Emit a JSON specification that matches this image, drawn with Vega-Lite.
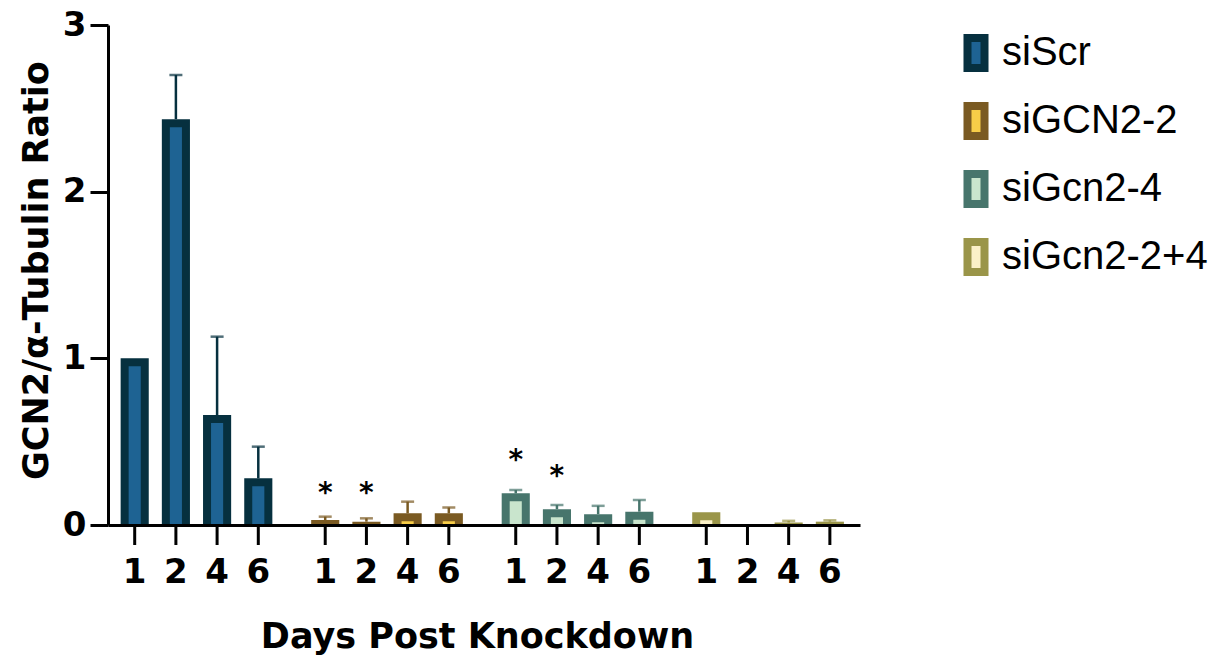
{
  "$schema": "https://vega.github.io/schema/vega-lite/v6.json",
  "width": 752,
  "height": 500,
  "autosize": {"type": "none"},
  "padding": {"left": 108, "top": 25, "right": 362, "bottom": 136},
  "background": "white",
  "config": {"view": {"stroke": null}, "font": "DejaVu Sans"},
  "data": {
    "values": [
      {"group": "siScr", "day": 1, "mean": 1.0, "err": 1.0},
      {"group": "siScr", "day": 2, "mean": 2.435, "err": 2.70},
      {"group": "siScr", "day": 4, "mean": 0.66, "err": 1.13},
      {"group": "siScr", "day": 6, "mean": 0.28, "err": 0.47},
      {"group": "siGCN2-2", "day": 1, "mean": 0.03, "err": 0.05, "sig": "*", "star": 0.234},
      {"group": "siGCN2-2", "day": 2, "mean": 0.02, "err": 0.04, "sig": "*", "star": 0.234},
      {"group": "siGCN2-2", "day": 4, "mean": 0.07, "err": 0.14},
      {"group": "siGCN2-2", "day": 6, "mean": 0.07, "err": 0.105},
      {"group": "siGcn2-4", "day": 1, "mean": 0.19, "err": 0.21, "sig": "*", "star": 0.43},
      {"group": "siGcn2-4", "day": 2, "mean": 0.095, "err": 0.12, "sig": "*", "star": 0.336},
      {"group": "siGcn2-4", "day": 4, "mean": 0.065, "err": 0.115},
      {"group": "siGcn2-4", "day": 6, "mean": 0.08, "err": 0.15},
      {"group": "siGcn2-2+4", "day": 1, "mean": 0.076, "err": 0.076},
      {"group": "siGcn2-2+4", "day": 2, "mean": 0, "err": 0},
      {"group": "siGcn2-2+4", "day": 4, "mean": 0.015, "err": 0.025},
      {"group": "siGcn2-2+4", "day": 6, "mean": 0.02, "err": 0.028}
    ]
  },
  "encoding": {
    "x": {
      "field": "group",
      "type": "nominal",
      "sort": ["siScr", "siGCN2-2", "siGcn2-4", "siGcn2-2+4"],
      "scale": {"paddingInner": 0.135, "paddingOuter": 0.041, "align": 0.39},
      "axis": {
        "title": "Days Post Knockdown",
        "labels": false,
        "ticks": false,
        "domainWidth": 3,
        "domainColor": "black",
        "titleFont": "DejaVu Sans",
        "titleFontSize": 35,
        "titleFontWeight": "bold",
        "titleColor": "black",
        "titleX": 369,
        "titleY": 122,
        "titleBaseline": "alphabetic",
        "titleAlign": "center",
        "zindex": 1
      }
    },
    "xOffset": {
      "field": "day",
      "type": "ordinal",
      "scale": {"paddingInner": 0.512, "paddingOuter": 0.256}
    }
  },
  "layer": [
    {
      "mark": {"type": "bar", "strokeWidth": 8, "yOffset": 4, "y2Offset": 4, "clip": true},
      "encoding": {
        "y": {
          "field": "mean",
          "type": "quantitative",
          "scale": {"domain": [0, 3], "nice": false},
          "axis": {
            "title": "GCN2/α-Tubulin Ratio",
            "values": [0, 1, 2, 3],
            "format": "d",
            "grid": false,
            "domainWidth": 3,
            "domainColor": "black",
            "tickColor": "black",
            "tickWidth": 3,
            "tickSize": 18,
            "labelFont": "DejaVu Sans",
            "labelFontSize": 34,
            "labelFontWeight": "bold",
            "labelColor": "black",
            "labelPadding": 4,
            "titleFont": "DejaVu Sans",
            "titleFontSize": 35,
            "titleFontWeight": "bold",
            "titleColor": "black",
            "titleX": -61,
            "titleY": 245,
            "titleBaseline": "alphabetic",
            "titleAlign": "center",
            "zindex": 1
          }
        },
        "fill": {
          "field": "group",
          "type": "nominal",
          "sort": ["siScr", "siGCN2-2", "siGcn2-4", "siGcn2-2+4"],
          "scale": {
            "domain": ["siScr", "siGCN2-2", "siGcn2-4", "siGcn2-2+4"],
            "range": ["#1E6393", "#F7CD48", "#C9E5CD", "#FBF1C8"]
          },
          "legend": {
            "title": null,
            "orient": "none",
            "legendX": 848,
            "legendY": 8,
            "padding": 0,
            "symbolType": "M-0.567,-1H0.567V1H-0.567Z",
            "symbolSize": 900,
            "symbolStrokeWidth": 8,
            "labelFont": "Liberation Sans",
            "labelFontSize": 40,
            "labelColor": "black",
            "labelLimit": 400,
            "labelOffset": 6,
            "rowPadding": 6
          }
        },
        "stroke": {
          "field": "group",
          "type": "nominal",
          "sort": ["siScr", "siGCN2-2", "siGcn2-4", "siGcn2-2+4"],
          "scale": {
            "domain": ["siScr", "siGCN2-2", "siGcn2-4", "siGcn2-2+4"],
            "range": ["#06303F", "#7A5A22", "#47756C", "#9A9549"]
          },
          "legend": {
            "title": null,
            "orient": "none",
            "legendX": 848,
            "legendY": 8,
            "padding": 0,
            "symbolType": "M-0.567,-1H0.567V1H-0.567Z",
            "symbolSize": 900,
            "symbolStrokeWidth": 8,
            "labelFont": "Liberation Sans",
            "labelFontSize": 40,
            "labelColor": "black",
            "labelLimit": 400,
            "labelOffset": 6,
            "rowPadding": 6
          }
        }
      }
    },
    {
      "transform": [{"filter": "datum.err > datum.mean"}],
      "mark": {"type": "rule", "strokeWidth": 2.5},
      "encoding": {
        "y": {"field": "mean", "type": "quantitative"},
        "y2": {"field": "err"},
        "color": {
          "field": "group",
          "type": "nominal",
          "scale": {
            "domain": ["siScr", "siGCN2-2", "siGcn2-4", "siGcn2-2+4"],
            "range": ["#06303F", "#7A5A22", "#47756C", "#9A9549"]
          },
          "legend": null
        }
      }
    },
    {
      "transform": [{"filter": "datum.err > datum.mean"}],
      "mark": {"type": "tick", "thickness": 2.5, "size": 13, "orient": "horizontal"},
      "encoding": {
        "y": {"field": "err", "type": "quantitative"},
        "color": {"field": "group", "type": "nominal", "legend": null}
      }
    },
    {
      "transform": [{"filter": "isValid(datum.sig)"}],
      "mark": {"type": "text", "font": "DejaVu Sans", "fontWeight": "bold", "fontSize": 28, "baseline": "alphabetic", "dy": 16, "color": "black"},
      "encoding": {
        "y": {"field": "star", "type": "quantitative"},
        "text": {"field": "sig"}
      }
    },
    {
      "mark": {"type": "rule", "strokeWidth": 3, "color": "black", "y2Offset": 20},
      "encoding": {
        "y": {"datum": 0},
        "y2": {"datum": 0}
      }
    },
    {
      "mark": {"type": "text", "font": "DejaVu Sans", "fontWeight": "bold", "fontSize": 34, "baseline": "alphabetic", "dy": 58, "color": "black"},
      "encoding": {
        "y": {"datum": 0},
        "text": {"field": "day"}
      }
    }
  ]
}
